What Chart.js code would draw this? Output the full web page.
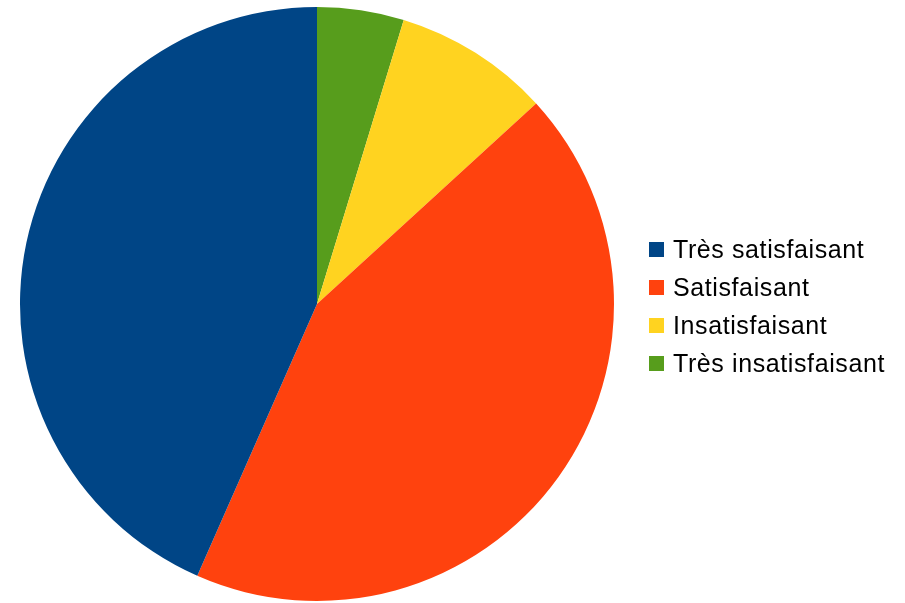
<!DOCTYPE html>
<html lang="fr">
<head>
    <meta charset="UTF-8">
    <title>Satisfaction</title>
    <script src="https://cdn.jsdelivr.net/npm/chart.js"></script>
    <style>
        html, body {
            margin: 0;
            padding: 0;
            background: #ffffff;
        }
        .wrap {
            position: relative;
            width: 905px;
            height: 603px;
        }
        .legend {
            position: absolute;
            left: 649px;
            top: 230px;
            font-family: "Liberation Sans", Arial, sans-serif;
            font-size: 25px;
            letter-spacing: 0.6px;
            color: #000;
        }
        .legend-row {
            display: flex;
            align-items: center;
            height: 38px;
        }
        .legend-box {
            width: 15px;
            height: 15px;
            margin-right: 9px;
            flex: none;
        }
    </style>
</head>
<body>
    <div class="wrap">
        <canvas id="pieChart" width="905" height="603"></canvas>
        <div class="legend" id="legend"></div>
    </div>

    <script>
        // réponses, dans l'ordre de la légende
        const categories = ['Très satisfaisant', 'Satisfaisant', 'Insatisfaisant', 'Très insatisfaisant'];
        const counts = [46, 46, 9, 5];
        const colors = ['#004586', '#ff420e', '#ffd320', '#579d1c'];

        // le camembert tourne dans le sens horaire : on inverse l'ordre
        const pieLabels = categories.slice().reverse();
        const pieValues = counts.slice().reverse();
        const pieColors = colors.slice().reverse();

        new Chart(document.getElementById('pieChart'), {
            type: 'pie',
            data: {
                labels: pieLabels,
                datasets: [{
                    data: pieValues,
                    backgroundColor: pieColors,
                    borderWidth: 0
                }]
            },
            options: {
                responsive: false,
                animation: false,
                layout: {
                    padding: { left: 20, right: 291, top: 7, bottom: 2 }
                },
                plugins: {
                    legend: { display: false },
                    tooltip: { enabled: false }
                }
            }
        });

        // légende à droite
        const legend = document.getElementById('legend');
        categories.forEach((name, i) => {
            const row = document.createElement('div');
            row.className = 'legend-row';
            row.innerHTML = `<span class="legend-box" style="background:${colors[i]}"></span><span>${name}</span>`;
            legend.appendChild(row);
        });
    </script>
</body>
</html>
